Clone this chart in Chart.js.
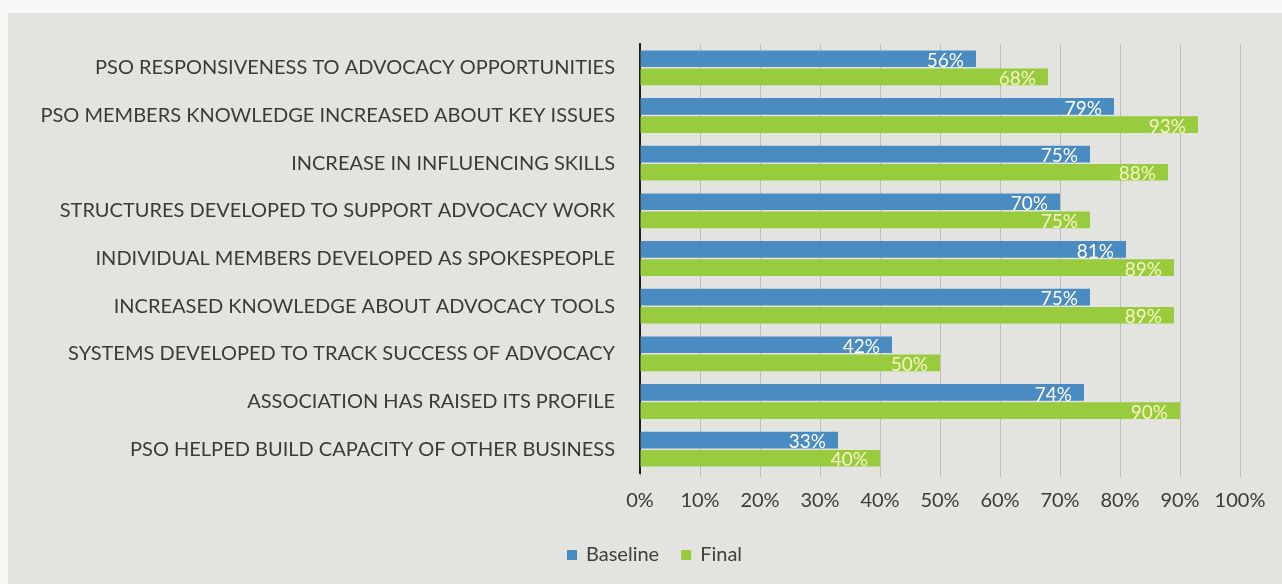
<!DOCTYPE html>
<html>
<head>
<meta charset="utf-8">
<script src="https://cdn.jsdelivr.net/npm/chart.js@4.4.0/dist/chart.umd.min.js"></script>
<style>
  html, body { margin: 0; padding: 0; background: #f7f7f5; }
  #wrap { width: 1282px; height: 584px; }
</style>
</head>
<body>
<div id="wrap"><canvas id="chart" width="1282" height="584"></canvas></div>
<script>
// chart data
const categories = [
  'PSO RESPONSIVENESS TO ADVOCACY OPPORTUNITIES',
  'PSO MEMBERS KNOWLEDGE INCREASED ABOUT KEY ISSUES',
  'INCREASE IN INFLUENCING SKILLS',
  'STRUCTURES DEVELOPED TO SUPPORT ADVOCACY WORK',
  'INDIVIDUAL MEMBERS DEVELOPED AS SPOKESPEOPLE',
  'INCREASED KNOWLEDGE ABOUT ADVOCACY TOOLS',
  'SYSTEMS DEVELOPED TO TRACK SUCCESS OF ADVOCACY',
  'ASSOCIATION HAS RAISED ITS PROFILE',
  'PSO HELPED BUILD CAPACITY OF OTHER BUSINESS'
];
const baseline = [56, 79, 75, 70, 81, 75, 42, 74, 33];
const final = [68, 93, 88, 75, 89, 89, 50, 90, 40];
const tickLabels = ['0%', '10%', '20%', '30%', '40%', '50%', '60%', '70%', '80%', '90%', '100%'];

const FONT = 'Lato, "Open Sans", sans-serif';
Chart.defaults.font.family = FONT;

// scanned page background
const paperBg = {
  id: 'paperBg',
  beforeDraw(chart) {
    const ctx = chart.ctx;
    ctx.save();
    ctx.fillStyle = '#f7f7f5';
    ctx.fillRect(0, 0, chart.width, chart.height);
    ctx.fillStyle = '#e3e4e0';
    ctx.fillRect(8, 13, chart.width - 8, chart.height - 13);
    ctx.restore();
  }
};

// value labels at the inner end of each bar
const barValues = {
  id: 'barValues',
  afterDatasetsDraw(chart) {
    const ctx = chart.ctx;
    ctx.save();
    ctx.font = '19px ' + FONT;
    ctx.textAlign = 'right';
    ctx.textBaseline = 'middle';
    chart.data.datasets.forEach((ds, i) => {
      const meta = chart.getDatasetMeta(i);
      ctx.fillStyle = ds.labelColor;
      meta.data.forEach((bar, j) => {
        ctx.fillText(ds.data[j] + '%', bar.x - 12, bar.y + 2);
      });
    });
    ctx.restore();
  }
};

// legend drawn under the axis
const bottomLegend = {
  id: 'bottomLegend',
  afterDraw(chart) {
    const ctx = chart.ctx;
    ctx.save();
    ctx.font = '20px ' + FONT;
    ctx.textBaseline = 'middle';
    let x = 567;
    const y = 555;
    chart.data.datasets.forEach(ds => {
      ctx.fillStyle = ds.backgroundColor;
      ctx.fillRect(x, y - 5, 10, 10);
      ctx.fillStyle = '#404040';
      ctx.fillText(ds.label, x + 19, y);
      x += 19 + ctx.measureText(ds.label).width + 22;
    });
    ctx.restore();
  }
};

new Chart(document.getElementById('chart'), {
  type: 'bar',
  data: {
    labels: categories,
    datasets: [
      {
        label: 'Baseline',
        data: baseline,
        backgroundColor: '#4a8cc2',
        labelColor: '#ffffff',
        barPercentage: 0.92,
        categoryPercentage: 0.76
      },
      {
        label: 'Final',
        data: final,
        backgroundColor: '#98cb3e',
        labelColor: '#f6f7c4',
        barPercentage: 0.92,
        categoryPercentage: 0.76
      }
    ]
  },
  options: {
    indexAxis: 'y',
    responsive: false,
    animation: false,
    layout: { padding: { top: 44, right: 42, left: 0, bottom: 0 } },
    plugins: {
      legend: { display: false },
      tooltip: { enabled: false }
    },
    scales: {
      y: {
        afterFit(scale) { scale.width = 640; },
        grid: { display: false, drawTicks: false },
        border: { display: true, color: '#1e1e1e', width: 2 },
        ticks: { color: '#3a3a3a', font: { size: 20 }, padding: 25 }
      },
      x: {
        min: 0,
        max: 100,
        afterFit(scale) { scale.height = 111; },
        grid: { color: '#bdbdb9', lineWidth: 1, tickLength: 4 },
        border: { display: false },
        ticks: {
          stepSize: 10,
          color: '#3a3a3a',
          font: { size: 20 },
          padding: 12,
          callback: (v, i) => tickLabels[i]
        }
      }
    }
  },
  plugins: [paperBg, barValues, bottomLegend]
});
</script>
</body>
</html>
